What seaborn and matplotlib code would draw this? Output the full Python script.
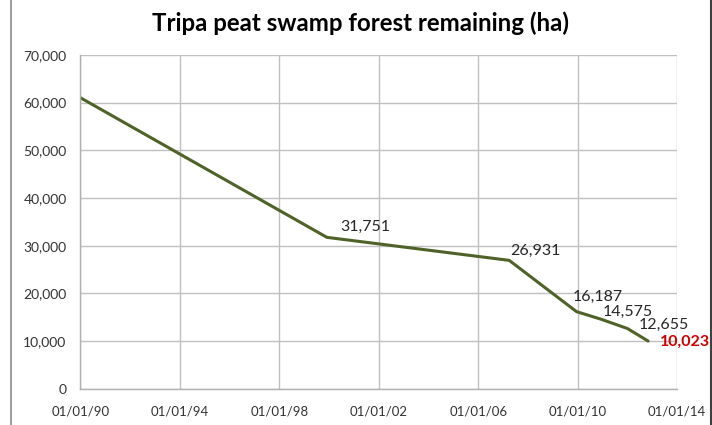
import matplotlib
matplotlib.use("Agg")
import matplotlib.pyplot as plt
import matplotlib.dates as mdates
from matplotlib.lines import Line2D
from matplotlib.ticker import FuncFormatter
import pandas as pd
import seaborn as sns

# data
dates = ["1990-01-01", "1999-12-01", "2007-04-01", "2009-12-15",
         "2010-12-15", "2012-01-01", "2012-11-01"]
hectares = [61000, 31751, 26931, 16187, 14575, 12655, 10023]
labels = ["", "31,751", "26,931", "16,187", "14,575", "12,655", "10,023"]
label_offsets = [(0, 0), (13, 10), (1, 9), (-4, 15), (1, 7), (11, 4), (12, -1)]

df = pd.DataFrame({"date": pd.to_datetime(dates), "ha": hectares})

sns.set_theme(style="whitegrid")
plt.rcParams["font.family"] = ["Lato", "DejaVu Sans"]

fig = plt.figure(figsize=(7.12, 4.25), dpi=100)
ax = fig.add_axes([0.113, 0.085, 0.838, 0.786])

sns.lineplot(data=df, x="date", y="ha", ax=ax, color="#4F6228", linewidth=2.2)

for d, v, lab, off in zip(df["date"], hectares, labels, label_offsets):
    if not lab:
        continue
    last = lab == labels[-1]
    ax.annotate(lab, (mdates.date2num(d), v), xytext=off, textcoords="offset pixels",
                ha="left", va="center", fontsize=11.5,
                color="#D00000" if last else "#262626",
                fontweight="bold" if last else "normal")

ax.set_xlim(pd.Timestamp("1990-01-01"), pd.Timestamp("2014-01-01"))
ax.set_ylim(0, 70000)
ax.set_xticks(pd.to_datetime([f"{y}-01-01" for y in range(1990, 2015, 4)]))
ax.xaxis.set_major_formatter(mdates.DateFormatter("%d/%m/%y"))
ax.set_yticks(range(0, 70001, 10000))
ax.yaxis.set_major_formatter(FuncFormatter(lambda v, p: f"{int(v):,}"))

ax.grid(True, color="#C0C0C0", linewidth=1)
for side in ["top", "right"]:
    ax.spines[side].set_visible(False)
for side in ["left", "bottom"]:
    ax.spines[side].set_color("#B0B0B0")
    ax.spines[side].set_linewidth(1)
ax.tick_params(axis="both", which="major", length=4, width=1, color="#B0B0B0",
               labelsize=9.5, labelcolor="#333333", direction="out")
ax.tick_params(axis="y", labelsize=10, pad=6)
ax.tick_params(axis="x", pad=8)
ax.set_xlabel("")
ax.set_ylabel("")

fig.text(0.507, 0.945, "Tripa peat swamp forest remaining (ha)", ha="center", va="center",
         fontsize=17.3, fontweight="bold", color="#000000")

# slide frame edges
fig.add_artist(Line2D([0.015, 0.015], [0, 1], transform=fig.transFigure, color="#A0A0A0", linewidth=1.5))
fig.add_artist(Line2D([0.998, 0.998], [0, 1], transform=fig.transFigure, color="#404040", linewidth=1.5))

fig.savefig("out.png", dpi=100)
